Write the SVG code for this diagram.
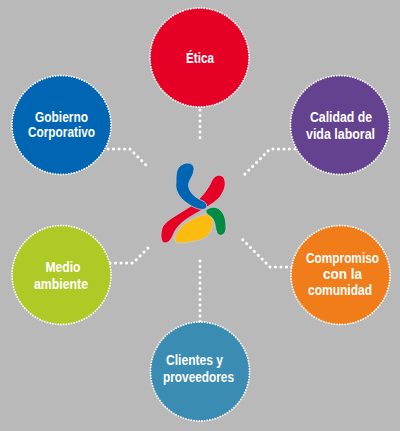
<svg xmlns="http://www.w3.org/2000/svg" width="400" height="431" viewBox="0 0 400 431">
<style>
.n{stroke:#fff;stroke-width:1.8;stroke-dasharray:.1 2.6;stroke-linecap:round}
.c{fill:none;stroke:#fff;stroke-width:3;stroke-dasharray:.1 5.4;stroke-linecap:round}
text{font-family:"Liberation Sans",Arial,sans-serif;font-weight:700;font-size:14px;fill:#fff;text-anchor:middle}
</style>
<rect width="400" height="431" fill="#b9b9b9"/>
<g id="connectors">
<path class="c" d="M200 110V143"/>
<path class="c" d="M108 149H130L146 165"/>
<path class="c" d="M295 149H270L243 176"/>
<path class="c" d="M110 263H133L148 248"/>
<path class="c" d="M292 267H270L241 238"/>
<path class="c" d="M200 261V322"/>
</g>
<g id="logo" stroke="#ccc" stroke-width=".8">
<path d="M163 226C168 219 179 214 191 206C201 198 208 190 212 180C216 173 224 174 225 181C226 187 223 193 219 198C212 205 203 209 195 214C186 219 179 224 175 231C172 237 170 243 165 243C160 243 160 232 163 226Z" fill="#e60026"/>
<path d="M179 167C186 160 195 163 194 170C193 178 187 181 189 188C191 194 196 198 203 201C207 203 208 207 205 209C199 211 190 206 183 200C177 194 175 188 176 182C176 176 176 171 179 167Z" fill="#0065b3"/>
<path d="M210 214C214 219 214 228 209 234C205 239 198 241 190 242C184 243 177 244 175 241C174 238 177 232 181 227C187 221 200 214 210 214Z" fill="#fbbb0f" stroke="#ccc"/>
<path d="M206 210C211 206 218 206 222 212C226 217 226 224 226 229C225 236 219 237 217 233C215 229 216 224 213 219C211 215 205 215 206 210Z" fill="#008c45"/>
</g>
<g id="etica"><circle class="n" cx="199.5" cy="57.5" r="49.5" fill="#e60026"/><text x="200" y="63" textLength="28" lengthAdjust="spacingAndGlyphs">Ética</text></g>
<g id="gobierno"><circle class="n" cx="61.5" cy="125" r="49.5" fill="#0065b3"/><text x="61.5" y="122" textLength="53" lengthAdjust="spacingAndGlyphs">Gobierno</text><text x="61.5" y="137" textLength="67" lengthAdjust="spacingAndGlyphs">Corporativo</text></g>
<g id="calidad"><circle class="n" cx="340" cy="125" r="49.5" fill="#65428f"/><text x="341" y="122" textLength="62" lengthAdjust="spacingAndGlyphs">Calidad de</text><text x="340.5" y="139" textLength="69" lengthAdjust="spacingAndGlyphs">vida laboral</text></g>
<g id="compromiso"><circle class="n" cx="340.5" cy="275" r="49.5" fill="#f07d1a"/><text x="342.5" y="263" textLength="73" lengthAdjust="spacingAndGlyphs">Compromiso</text><text x="342.5" y="279" textLength="39" lengthAdjust="spacingAndGlyphs">con la</text><text x="340" y="295" textLength="64" lengthAdjust="spacingAndGlyphs">comunidad</text></g>
<g id="medio"><circle class="n" cx="61.5" cy="275" r="49.5" fill="#afca27"/><text x="63" y="272" textLength="35" lengthAdjust="spacingAndGlyphs">Medio</text><text x="61" y="289" textLength="54" lengthAdjust="spacingAndGlyphs">ambiente</text></g>
<g id="clientes"><circle class="n" cx="200" cy="371.5" r="49.5" fill="#3a8cb3"/><text x="194.5" y="365" textLength="57" lengthAdjust="spacingAndGlyphs">Clientes y</text><text x="198.5" y="382" textLength="71" lengthAdjust="spacingAndGlyphs">proveedores</text></g>
</svg>
